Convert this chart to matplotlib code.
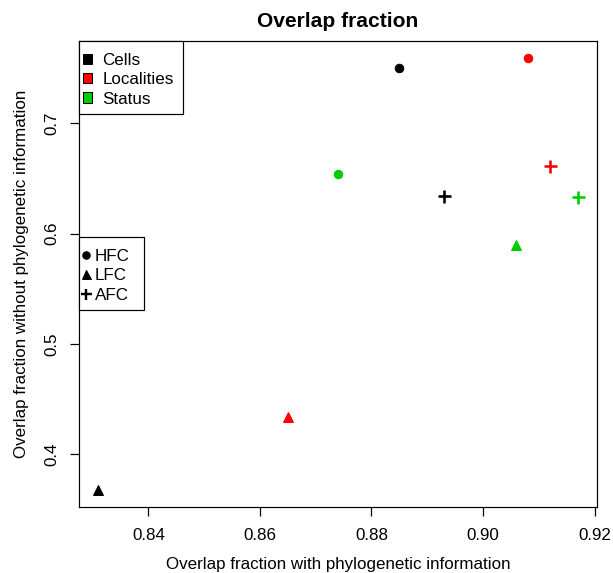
import matplotlib
matplotlib.use("Agg")
import matplotlib.pyplot as plt
from matplotlib.lines import Line2D
from matplotlib.patches import Patch, Rectangle

plt.rcParams['font.family'] = ['Liberation Sans', 'DejaVu Sans']

groups = ["Cells", "Localities", "Status"]
group_colors = ["#000000", "#FF0000", "#00CD00"]
measures = ["HFC", "LFC", "AFC"]
measure_markers = ["o", "^", "P"]

# x: with phylogenetic information, y: without
x_vals = {
    "HFC": [0.885, 0.908, 0.874],
    "LFC": [0.831, 0.865, 0.906],
    "AFC": [0.893, 0.912, 0.917],
}
y_vals = {
    "HFC": [0.750, 0.759, 0.654],
    "LFC": [0.368, 0.434, 0.590],
    "AFC": [0.634, 0.661, 0.633],
}
x_ticks = [0.84, 0.86, 0.88, 0.90, 0.92]
y_ticks = [0.4, 0.5, 0.6, 0.7]

FS = 17
W, H = 613, 573
fig = plt.figure(figsize=(W / 72, H / 72), dpi=72)
ax = fig.add_axes([79 / W, 1 - 507 / H, (597 - 79) / W, (507 - 41) / H])


def fx(px):
    return px / W


def fy(py):
    return 1 - py / H


for m, mk in zip(measures, measure_markers):
    for i, c in enumerate(group_colors):
        if mk == "P":
            ax.plot(x_vals[m][i], y_vals[m][i], marker="+", color=c, ms=13, mew=2.6, ls="none")
        elif mk == "^":
            ax.plot(x_vals[m][i], y_vals[m][i], marker="^", color=c, ms=10, ls="none", mec=c)
        else:
            ax.plot(x_vals[m][i], y_vals[m][i], marker="o", color=c, ms=8.5, ls="none", mec=c)

allx = sum(x_vals.values(), [])
ally = sum(y_vals.values(), [])
dx = max(allx) - min(allx)
dy = max(ally) - min(ally)
ax.set_xlim(min(allx) - 0.04 * dx, max(allx) + 0.04 * dx)
ax.set_ylim(min(ally) - 0.04 * dy, max(ally) + 0.04 * dy)

ax.set_xticks(x_ticks)
ax.set_xticklabels([f"{v:.2f}" for v in x_ticks])
ax.set_yticks(y_ticks)
ax.set_yticklabels([f"{v:.1f}" for v in y_ticks], rotation=90, va="center")
ax.tick_params(direction="out", length=9, width=1.2, labelsize=FS)
ax.tick_params(axis="x", pad=12)
ax.tick_params(axis="y", pad=11)
for s in ax.spines.values():
    s.set_linewidth(1.2)

ax.set_title("Overlap fraction", fontsize=21, fontweight="bold", pad=14)
ax.set_xlabel("Overlap fraction with phylogenetic information", fontsize=FS, labelpad=14)
ax.set_ylabel("Overlap fraction without phylogenetic information", fontsize=FS, labelpad=15)

# legend frames (R-style boxes)
for (x0, y0, x1, y1) in [(79, 41, 183, 114), (79, 237, 144, 310)]:
    r = Rectangle((fx(x0), fy(y1)), fx(x1) - fx(x0), fy(y0) - fy(y1),
                  transform=fig.transFigure, facecolor="white", edgecolor="black",
                  linewidth=1.2, zorder=4, clip_on=False)
    ax.add_patch(r)

h1 = [Patch(facecolor=c, edgecolor="black", linewidth=1) for c in group_colors]
leg1 = ax.legend(h1, groups, loc="upper left", bbox_to_anchor=(fx(83), fy(53)),
                 bbox_transform=fig.transFigure, borderaxespad=0, borderpad=0,
                 frameon=False, fontsize=FS,
                 handlelength=0.55, handleheight=0.55, handletextpad=0.6,
                 labelspacing=0.25)
leg1.set_zorder(6)
ax.add_artist(leg1)

h2 = [Line2D([], [], marker="o", color="black", ls="none", ms=7.5),
      Line2D([], [], marker="^", color="black", ls="none", ms=9),
      Line2D([], [], marker="+", color="black", ls="none", ms=11, mew=2.4)]
leg2 = ax.legend(h2, measures, loc="upper left", bbox_to_anchor=(fx(82), fy(249)),
                 bbox_transform=fig.transFigure, borderaxespad=0, borderpad=0,
                 frameon=False, fontsize=FS,
                 handlelength=0.5, handletextpad=0.26, labelspacing=0.25)
leg2.set_zorder(6)

fig.savefig("out.png", dpi=72)
